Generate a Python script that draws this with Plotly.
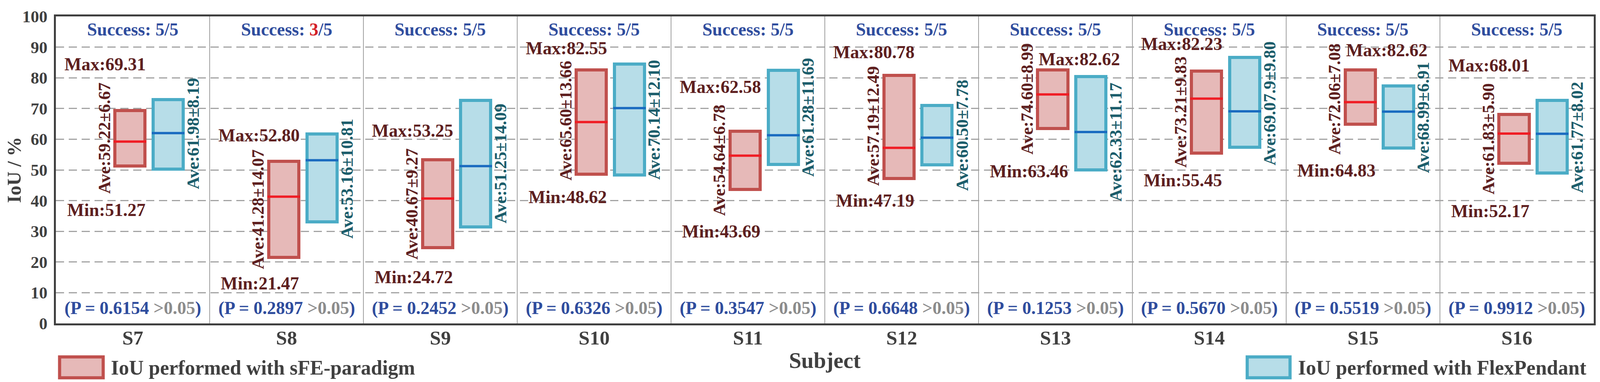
import plotly.graph_objects as go
import numpy as np

subjects = ["S7", "S8", "S9", "S10", "S11", "S12", "S13", "S14", "S15", "S16"]

# IoU with sFE-paradigm
sfe_min = [51.27, 21.47, 24.72, 48.62, 43.69, 47.19, 63.46, 55.45, 64.83, 52.17]
sfe_max = [69.31, 52.80, 53.25, 82.55, 62.58, 80.78, 82.62, 82.23, 82.62, 68.01]
sfe_ave = [59.22, 41.28, 40.67, 65.60, 54.64, 57.19, 74.60, 73.21, 72.06, 61.83]
sfe_sd = [6.67, 14.07, 9.27, 13.66, 6.78, 12.49, 8.99, 9.83, 7.08, 5.90]

fp_min = [50.3, 33.1, 31.4, 48.3, 51.8, 51.7, 50.0, 57.4, 57.1, 49.0]
fp_max = [72.9, 61.7, 72.6, 84.5, 82.5, 71.0, 80.4, 86.6, 77.4, 72.6]
fp_ave = [61.98, 53.16, 51.25, 70.14, 61.28, 60.50, 62.33, 69.07, 68.99, 61.77]
fp_sd = [8.19, 10.81, 14.09, 12.10, 11.69, 7.78, 11.17, 9.80, 6.91, 8.02]

success = [5, 3, 5, 5, 5, 5, 5, 5, 5, 5]
trials = 5
p_values = [0.6154, 0.2897, 0.2452, 0.6326, 0.3547, 0.6648, 0.1253, 0.5670, 0.5519, 0.9912]

# label placement (y in data units)
max_lbl_dx = [-0.18, -0.18, -0.18, -0.18, -0.18, -0.18, 0.155, -0.18, 0.155, -0.18]
max_lbl_y = [84.4, 61.3, 62.8, 89.6, 77.0, 88.3, 86.1, 91.0, 89.0, 84.0]
min_lbl_y = [37.0, 13.0, 15.1, 41.2, 29.9, 40.0, 49.5, 46.6, 49.8, 36.6]
sfe_ave_lbl_y = [60.3, 37.2, 38.9, 66.0, 53.2, 64.3, 73.1, 68.9, 73.1, 60.1]
fp_ave_lbl_y = [61.8, 47.2, 52.1, 66.3, 67.1, 61.3, 59.1, 71.7, 67.1, 60.6]

FONT = "Liberation Serif"
MAROON = "#5e1f1f"
TEAL = "#1b5d6b"
BLUE_TXT = "#2f4d9e"
AXIS = "#404040"

# the page viewport is 4096 px wide and the body has an 8 px margin,
# so the reference layout (4277 wide) is squeezed horizontally to fit
W, H = 4088, 970
SX = 4096 / 4277


def fx(x):
    return x * SX - 8


def fy(y):
    return y - 8


L, R, T, B = fx(138), fx(4265), fy(21), fy(828)

idx = np.arange(len(subjects))
x_red = idx - 0.018
x_blue = idx + 0.23
bw = 0.196
half = 0.106

fig = go.Figure()
fig.add_trace(go.Bar(x=x_red, base=sfe_min, y=np.array(sfe_max) - np.array(sfe_min), width=bw,
                     marker=dict(color="#e6b9b8", line=dict(color="#c0504d", width=8)),
                     name="IoU performed with sFE-paradigm", showlegend=False))
fig.add_trace(go.Bar(x=x_blue, base=fp_min, y=np.array(fp_max) - np.array(fp_min), width=bw,
                     marker=dict(color="#b7dde8", line=dict(color="#4bacc6", width=8)),
                     name="IoU performed with FlexPendant", showlegend=False))


def mean_segments(xc, vals):
    xs, ys = [], []
    for x, v in zip(xc, vals):
        xs += [x - half, x + half, None]
        ys += [v, v, None]
    return xs, ys


xs, ys = mean_segments(x_red, sfe_ave)
fig.add_trace(go.Scatter(x=xs, y=ys, mode="lines", line=dict(color="#f01c24", width=6),
                         showlegend=False, hoverinfo="skip"))
xs, ys = mean_segments(x_blue, fp_ave)
fig.add_trace(go.Scatter(x=xs, y=ys, mode="lines", line=dict(color="#1a6bc0", width=6),
                         showlegend=False, hoverinfo="skip"))

fp_ave_text = [f"Ave:{m:.2f}±{s:.2f}" for m, s in zip(fp_ave, fp_sd)]
fp_ave_text[7] = "Ave:69.07.9±9.80"  # as printed in the original

ann = []
for i in idx:
    ann.append(dict(x=i + max_lbl_dx[i], y=max_lbl_y[i], text=f"Max:{sfe_max[i]:.2f}",
                    font=dict(size=46, color=MAROON, weight="bold")))
    ann.append(dict(x=i - 0.172, y=min_lbl_y[i], text=f"Min:{sfe_min[i]:.2f}",
                    font=dict(size=46, color=MAROON, weight="bold")))
    ann.append(dict(x=i - 0.185, y=sfe_ave_lbl_y[i], text=f"Ave:{sfe_ave[i]:.2f}±{sfe_sd[i]:.2f}",
                    textangle=-90, font=dict(size=44, color=MAROON, weight="bold")))
    ann.append(dict(x=i + 0.392, y=fp_ave_lbl_y[i], text=fp_ave_text[i],
                    textangle=-90, font=dict(size=44, color=TEAL, weight="bold")))
    n = str(success[i]) if success[i] == trials else f"<span style='color:#d42027'>{success[i]}</span>"
    ann.append(dict(x=i, y=95.7, text=f"Success: {n}/{trials}",
                    font=dict(size=46, color=BLUE_TXT, weight="bold")))
    ann.append(dict(x=i, y=5.0,
                    text=f"(P = {p_values[i]:.4f} <span style='color:#8c8c8c'>&gt;0.05</span>)",
                    font=dict(size=46, color=BLUE_TXT, weight="bold")))
for a in ann:
    a.update(xref="x", yref="y", showarrow=False, xanchor="center", yanchor="middle")


def px(x):
    return (fx(x) - L) / (R - L)


def py(y):
    return (B - fy(y)) / (B - T)


shapes = [dict(type="line", xref="x", yref="paper", x0=i + 0.5, x1=i + 0.5, y0=0, y1=1,
               line=dict(color="#7f7f7f", width=1.5), layer="below") for i in idx[:-1]]
legend_items = [(148, 265, "#e6b9b8", "#c0504d", "IoU performed with sFE-paradigm"),
                (3335, 3450, "#b7dde8", "#4bacc6", "IoU performed with FlexPendant")]
for x0, x1, fill, edge, label in legend_items:
    shapes.append(dict(type="rect", xref="paper", yref="paper", x0=px(x0), x1=px(x1),
                       y0=py(971), y1=py(916), fillcolor=fill, line=dict(color=edge, width=8)))
    ann.append(dict(xref="paper", yref="paper", x=px(x1 + 19), y=py(945), text=label,
                    showarrow=False, xanchor="left", yanchor="middle",
                    font=dict(size=52, color=AXIS, weight="bold")))

fig.update_layout(
    width=W, height=H,
    margin=dict(l=L, r=W - R, t=T, b=H - B),
    paper_bgcolor="white", plot_bgcolor="white",
    font=dict(family=FONT, color=AXIS),
    barmode="overlay", bargap=0,
    annotations=ann, shapes=shapes,
)
fig.update_xaxes(range=[-0.5, 9.5], tickvals=idx, ticktext=subjects, showgrid=False,
                 zeroline=False, showline=True, mirror=True, linewidth=5, linecolor="#3f3f3f",
                 ticks="", ticklabelstandoff=-12,
                 tickfont=dict(size=51, color=AXIS, weight="bold"),
                 title=dict(text="Subject", font=dict(size=57, color=AXIS, weight="bold"), standoff=11))
fig.update_yaxes(range=[0, 100], dtick=10, showgrid=True, gridcolor="#a3a3a3", gridwidth=3,
                 griddash="21px,12px", zeroline=False, showline=True, mirror=True, linewidth=5,
                 linecolor="#3f3f3f", ticks="", ticklabelstandoff=8, ticklabeloverflow="allow",
                 tickfont=dict(size=43, color=AXIS, weight="bold"),
                 title=dict(text="IoU / %", font=dict(size=50, color=AXIS, weight="bold"), standoff=2))

fig.write_html("out.html")
